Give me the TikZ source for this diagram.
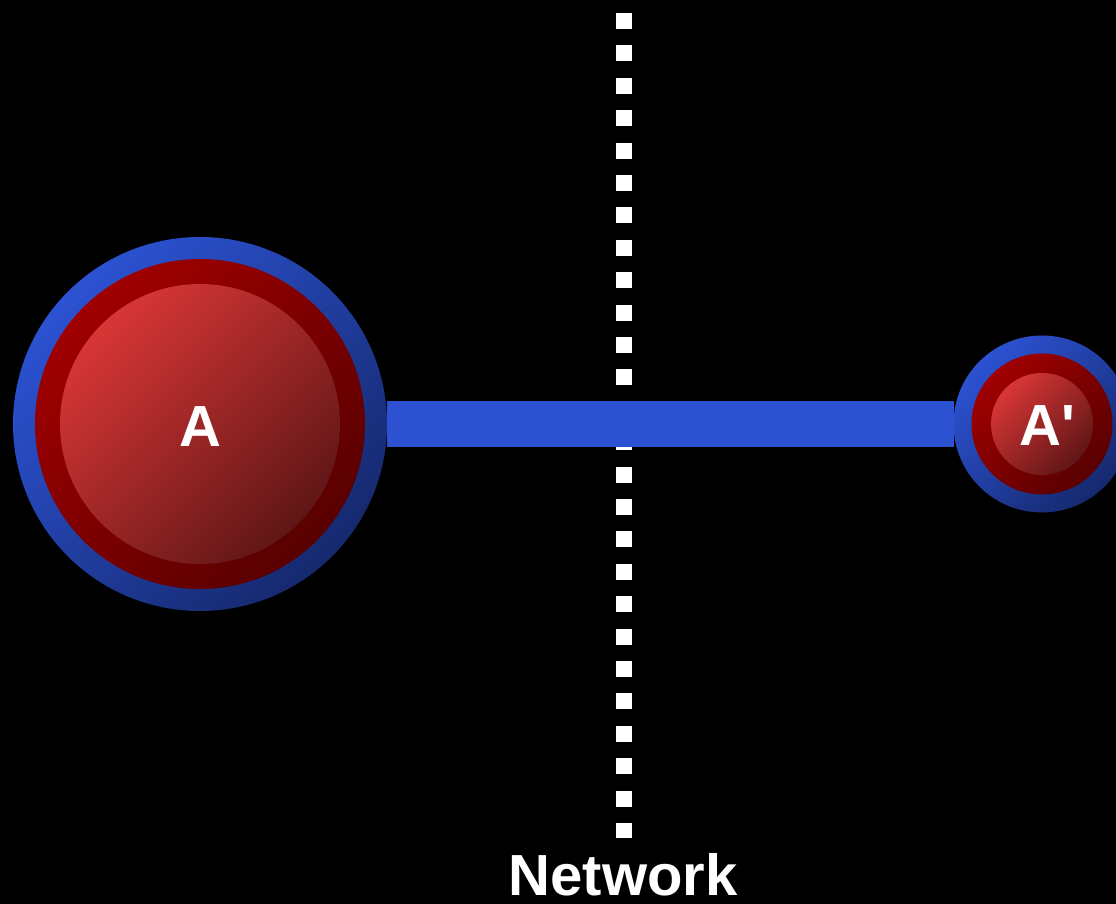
\documentclass[tikz,border=0pt]{standalone}
\usepackage{fontspec}
\setmainfont{Liberation Sans}[Ligatures=TeXOff]
\definecolor{ringblue}{HTML}{2C52D2}
\definecolor{ringbluedk}{HTML}{15296E}
\definecolor{ringred}{HTML}{A00000}
\definecolor{ringreddk}{HTML}{580000}
\definecolor{discred}{HTML}{D83636}
\definecolor{discreddk}{HTML}{601616}
\newcommand{\bigtxt}{\fontsize{58}{60}\selectfont\bfseries}
\tikzset{
  outerring/.style={circle,inner sep=0pt,outer sep=0pt,top color=ringblue,bottom color=ringbluedk,shading angle=45},
  midring/.style={circle,inner sep=0pt,outer sep=0pt,top color=ringred,bottom color=ringreddk,shading angle=45},
  innerdisc/.style={circle,inner sep=0pt,outer sep=0pt,top color=discred,bottom color=discreddk,shading angle=45},
  letter/.style={text=white,font=\bigtxt,anchor=base},
  netline/.style={white,line width=16pt,dash pattern=on 16pt off 16.4pt},
  link/.style={ringblue,line width=46pt}
}

\begin{document}
\begin{tikzpicture}[x=1pt,y=1pt]
  \fill[black] (0,0) rectangle (1116,904);
  \useasboundingbox (0,0) rectangle (1116,904);
  % network boundary
  \coordinate (nettop) at (624,891);
  \coordinate (netbot) at (624,66);
  \draw[netline] (nettop) -- (netbot);
  \node[letter,inner sep=1pt] (net) at (623,8) {Network};
  % host A
  \node[outerring,minimum size=374pt] (A) at (200,480) {};
  \node[midring,minimum size=330pt] (Amid) at (A) {};
  \node[innerdisc,minimum size=280pt] (Ain) at (A) {};
  \node[letter] (Alab) at (200,457) {A};
  % host A'
  \node[outerring,minimum size=177pt] (B) at (1042,480) {};
  \node[midring,minimum size=141pt] (Bmid) at (B) {};
  \node[innerdisc,minimum size=102pt] (Bin) at (B) {};
  \node[letter] (Blab) at (1047,458) {A'};
  % connection
  \draw[link] (A) -- (B);
\end{tikzpicture}
\end{document}
